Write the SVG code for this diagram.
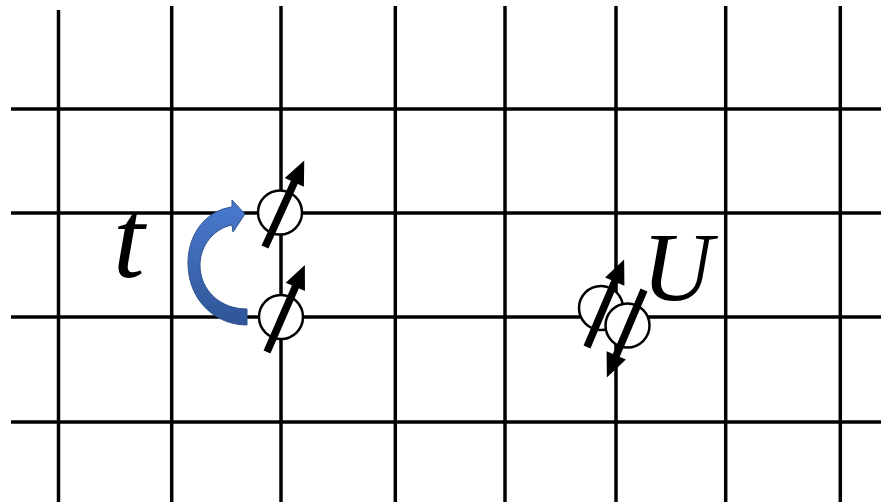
<svg xmlns="http://www.w3.org/2000/svg" width="881" height="502" viewBox="0 0 881 502">
<defs>
<style>
.grid line{stroke:#000;stroke-width:3.5}
.site{fill:#fff;stroke:#000;stroke-width:2.5}
.lbl{font-family:"Liberation Serif","Times New Roman",serif;font-style:italic;fill:#000}
</style>
<linearGradient id="blue" x1="0" y1="0" x2="0" y2="1">
<stop offset="0" stop-color="#4a7bd0"/>
<stop offset="1" stop-color="#2f5597"/>
</linearGradient>
<g id="spin">
<line x1="0" y1="0" x2="74" y2="0" stroke="#000" stroke-width="7.5"/>
<polygon points="71,-10.5 95,0 71,10.5" fill="#000"/>
</g>
</defs>
<rect width="881" height="502" fill="#fff"/>
<g id="lattice" class="grid">
<line x1="58.5" y1="10" x2="58.5" y2="502"/>
<line x1="171.7" y1="6" x2="171.7" y2="502"/>
<line x1="281" y1="6" x2="281" y2="502"/>
<line x1="395.3" y1="6" x2="395.3" y2="502"/>
<line x1="505" y1="6" x2="505" y2="502"/>
<line x1="616" y1="6" x2="616" y2="502"/>
<line x1="725.7" y1="6" x2="725.7" y2="502"/>
<line x1="840.3" y1="6" x2="840.3" y2="502"/>
<line x1="11" y1="109" x2="881" y2="109"/>
<line x1="11" y1="213" x2="881" y2="213"/>
<line x1="11" y1="317" x2="881" y2="317"/>
<line x1="11" y1="422" x2="881" y2="422"/>
</g>
<g id="connectors">
<path id="hop" d="M247 309 L247 325 C215 325 188 300 188 263 C188 232 208 210 232 207 L232 200 L245 214 L233 232 L232 225 C215 228 200 245 200 265 C200 290 220 309 247 309 Z" fill="url(#blue)" stroke="#2f528f" stroke-width="1"/>
</g>
<g id="site-top">
<circle class="site" cx="280" cy="212.5" r="22"/>
<use href="#spin" transform="translate(265,247) rotate(-65.6)"/>
</g>
<g id="site-bottom">
<circle class="site" cx="281" cy="317" r="22"/>
<use href="#spin" transform="translate(267,352) rotate(-66.5)"/>
</g>
<g id="site-double">
<circle class="site" cx="601" cy="308" r="22"/>
<circle class="site" cx="627.5" cy="325.5" r="22"/>
<use href="#spin" transform="translate(587,347) rotate(-67)"/>
<use href="#spin" transform="translate(644,290) rotate(113)"/>
</g>
<g id="label-t"><text class="lbl" x="113" y="277" font-size="114">t</text></g>
<g id="label-U"><text class="lbl" x="642" y="300" font-size="98">U</text></g>
</svg>
